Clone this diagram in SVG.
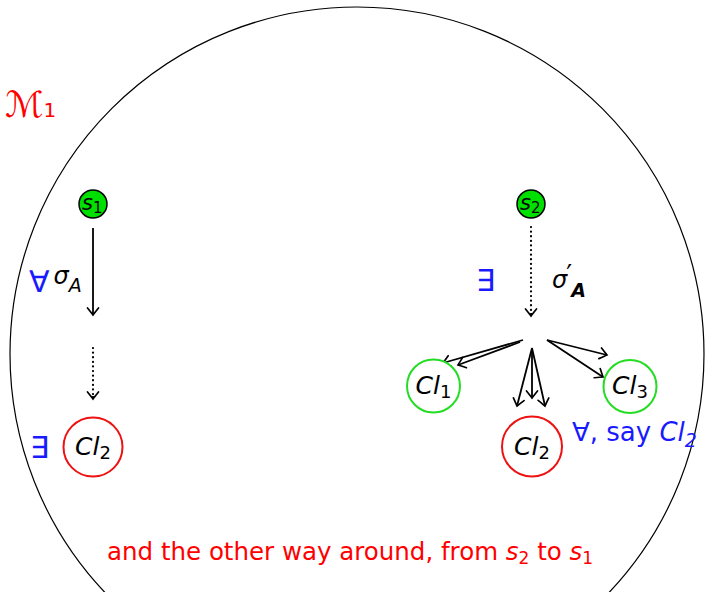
<svg xmlns="http://www.w3.org/2000/svg" width="706" height="592" viewBox="0 0 706 592">
<defs>
<style>
.t{font-family:"DejaVu Sans","Liberation Sans",sans-serif;}
.i{font-style:italic;}
.blue{fill:#1a1aff;}
.red{fill:#ff0000;}
.edge{stroke:#000;stroke-width:1.8;fill:none;}
.dot{stroke:#000;stroke-width:2.2;fill:none;stroke-dasharray:0.1 4.5;stroke-linecap:round;}
.green{fill:#00e000;stroke:#000;stroke-width:1.5;}
.gring{fill:#fff;stroke:#22dd22;stroke-width:2;}
.rring{fill:#fff;stroke:#ee1111;stroke-width:2;}
.cl{font-size:25px;font-style:italic;text-anchor:middle;}
</style>
<marker id="ah" markerUnits="userSpaceOnUse" markerWidth="16" markerHeight="16" viewBox="-9 -8 11 16" refX="0" refY="0" orient="auto">
<path d="M-7,-5.5 Q-2,-1.5 0,0 Q-2,1.5 -7,5.5" fill="none" stroke="#000" stroke-width="1.7" stroke-linecap="round"/>
</marker>
</defs>
<rect width="706" height="592" fill="#fff"/>
<circle cx="357" cy="354" r="347" fill="none" stroke="#000" stroke-width="1.2"/>
<text class="t red" x="5" y="117" font-size="36" font-family="DejaVu Serif,serif">ℳ<tspan font-family="DejaVu Sans,sans-serif" font-size="20">1</tspan></text>

<g id="connectors">
<line class="edge" x1="93" y1="228" x2="93" y2="315" marker-end="url(#ah)"/>
<line class="dot" x1="93" y1="348" x2="93" y2="396"/>
<line class="edge" x1="93" y1="396" x2="93" y2="399" marker-end="url(#ah)" stroke-width="0"/>
<line class="dot" x1="531" y1="227" x2="531" y2="313"/>
<line class="edge" x1="531" y1="313" x2="531" y2="316" marker-end="url(#ah)" stroke-width="0"/>
<line class="edge" x1="523" y1="340" x2="443" y2="363" marker-end="url(#ah)"/>
<line class="edge" x1="520" y1="342" x2="458" y2="365" marker-end="url(#ah)"/>
<line class="edge" x1="532" y1="348" x2="517" y2="406" marker-end="url(#ah)"/>
<line class="edge" x1="532" y1="348" x2="532" y2="398" marker-end="url(#ah)"/>
<line class="edge" x1="532" y1="348" x2="545" y2="406" marker-end="url(#ah)"/>
<line class="edge" x1="547" y1="340" x2="607" y2="355" marker-end="url(#ah)"/>
<line class="edge" x1="547" y1="340" x2="603" y2="377" marker-end="url(#ah)"/>
</g>

<g id="labels">
<text class="t" x="29" y="292" font-size="24"><tspan class="blue" font-size="30">∀</tspan><tspan class="i" dx="4" dy="-8">σ</tspan><tspan class="i" font-size="19" dy="8">A</tspan></text>
<text class="t blue" x="30" y="458" font-size="30">∃</text>
<text class="t blue" x="476" y="291" font-size="30">∃</text>
<text class="t i" x="552" y="288" font-size="24">σ<tspan font-style="normal" font-size="26" dx="-1" dy="-4">′</tspan><tspan font-size="19" font-weight="bold" dx="-1" dy="13">A</tspan></text>
<text class="t blue" x="572" y="441" font-size="26">∀, say <tspan class="i">Cl</tspan><tspan class="i" font-size="19" dy="6">2</tspan></text>
<text class="t red" x="107" y="560" font-size="24.5">and the other way around, from <tspan class="i">s</tspan><tspan font-size="17" dy="4">2</tspan><tspan dy="-4"> to </tspan><tspan class="i">s</tspan><tspan font-size="17" dy="4">1</tspan></text>
</g>

<g id="s1">
<circle class="green" cx="93" cy="204" r="14"/>
<text class="t i" x="82" y="210" font-size="21">s<tspan font-style="normal" font-size="15" dy="3">1</tspan></text>
</g>
<g id="s2">
<circle class="green" cx="531" cy="204" r="14"/>
<text class="t i" x="520" y="210" font-size="21">s<tspan font-style="normal" font-size="15" dy="3">2</tspan></text>
</g>
<g id="cl2left">
<circle class="rring" cx="93" cy="447" r="29.5"/>
<text class="t cl" x="93" y="455">Cl<tspan font-style="normal" font-size="18" dy="4">2</tspan></text>
</g>
<g id="cl1">
<circle class="gring" cx="433.5" cy="386" r="26.5"/>
<text class="t cl" x="433.5" y="394">Cl<tspan font-style="normal" font-size="18" dy="4">1</tspan></text>
</g>
<g id="cl2right">
<circle class="rring" cx="532" cy="446.5" r="30"/>
<text class="t cl" x="532" y="455">Cl<tspan font-style="normal" font-size="18" dy="4">2</tspan></text>
</g>
<g id="cl3">
<circle class="gring" cx="630" cy="386.5" r="26.5"/>
<text class="t cl" x="630" y="394">Cl<tspan font-style="normal" font-size="18" dy="4">3</tspan></text>
</g>
</svg>
